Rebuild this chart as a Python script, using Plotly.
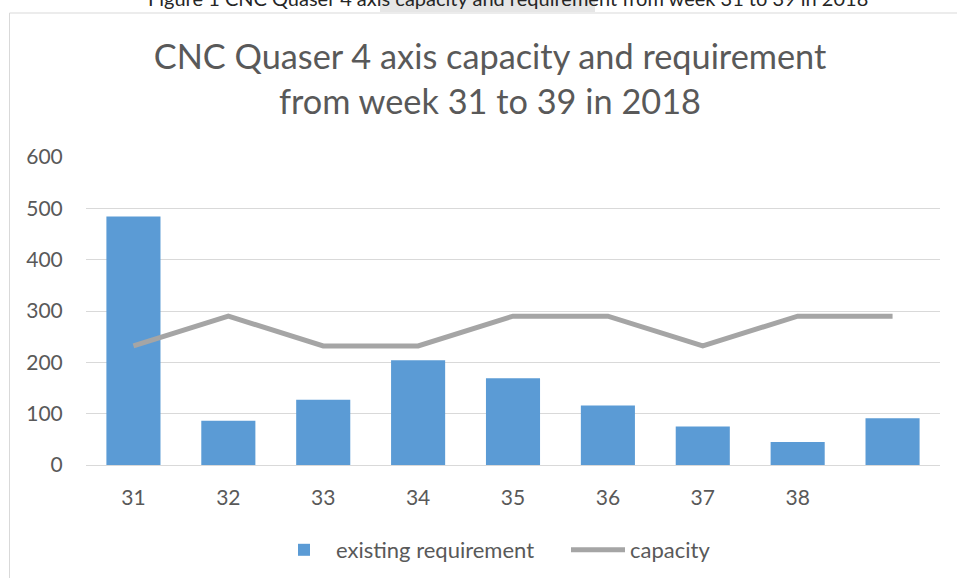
import plotly.graph_objects as go

weeks = ["31", "32", "33", "34", "35", "36", "37", "38", "39"]
tick_labels = ["31", "32", "33", "34", "35", "36", "37", "38", ""]
existing_requirement = [484, 86, 127, 204, 169, 116, 75, 45, 91]
capacity = [232, 290, 232, 232, 290, 290, 232, 290, 290]

W, H = 957, 578
ML, MR, MT, MB = 86, 17, 157, 113
PW, PH = W - ML - MR, H - MT - MB


def px(x):
    return (x - ML) / PW


def py(y):
    return (H - MB - y) / PH


FONT = "Lato"
GREY = "#595959"

fig = go.Figure()
fig.add_trace(go.Bar(
    x=weeks, y=existing_requirement, name="existing requirement",
    marker=dict(color="#5b9bd5", line=dict(width=0)),
))
fig.add_trace(go.Scatter(
    x=weeks, y=capacity, name="capacity", mode="lines",
    line=dict(color="#a5a5a5", width=5),
))

fig.update_layout(
    width=W, height=H,
    margin=dict(l=ML, r=MR, t=MT, b=MB, autoexpand=False),
    paper_bgcolor="white", plot_bgcolor="white",
    font=dict(family=FONT, color=GREY),
    bargap=0.43,
    title=dict(
        text="CNC Quaser 4 axis capacity and requirement<br>from week 31 to 39 in 2018",
        x=490 / W, xanchor="center", xref="container",
        y=1 - 69 / H, yanchor="top", yref="container",
        font=dict(family=FONT, size=34.3, color=GREY),
    ),
    xaxis=dict(
        type="category", tickmode="array", tickvals=weeks, ticktext=tick_labels,
        showgrid=False, showline=True, linecolor="#d9d9d9", linewidth=1,
        ticks="outside", ticklen=14, tickcolor="rgba(0,0,0,0)",
        tickfont=dict(family=FONT, size=21, color=GREY),
        fixedrange=True,
    ),
    yaxis=dict(
        range=[0, 600], dtick=100, showgrid=True, gridcolor="#d9d9d9", gridwidth=1,
        zeroline=False, showline=False,
        ticks="outside", ticklen=18, tickcolor="rgba(0,0,0,0)",
        tickfont=dict(family=FONT, size=21, color=GREY),
        fixedrange=True,
    ),
    legend=dict(
        orientation="h", x=px(272), xanchor="left", y=py(550), yanchor="middle",
        font=dict(family=FONT, size=22, color=GREY), bgcolor="rgba(0,0,0,0)",
        itemwidth=54, entrywidth=225, entrywidthmode="pixels",
    ),
    showlegend=True,
    shapes=[
        dict(type="rect", xref="paper", yref="paper",
             x0=px(9.5), x1=px(965), y0=py(590), y1=py(13),
             line=dict(color="#d9d9d9", width=1), fillcolor="rgba(0,0,0,0)", layer="below"),
        dict(type="rect", xref="paper", yref="paper",
             x0=px(380), x1=px(595), y0=py(12), y1=py(-5),
             line=dict(width=0), fillcolor="#e6e6e6", layer="below"),
    ],
    annotations=[
        dict(text="Figure 1 CNC Quaser 4 axis capacity and requirement from week 31 to 39 in 2018",
             xref="paper", yref="paper", x=px(508), y=py(12), xanchor="center", yanchor="bottom",
             showarrow=False, font=dict(family=FONT, size=20, color="#262626")),
    ],
)

fig.write_html("out.html", post_script="document.body.style.margin='0';",
               config={"displayModeBar": False})
